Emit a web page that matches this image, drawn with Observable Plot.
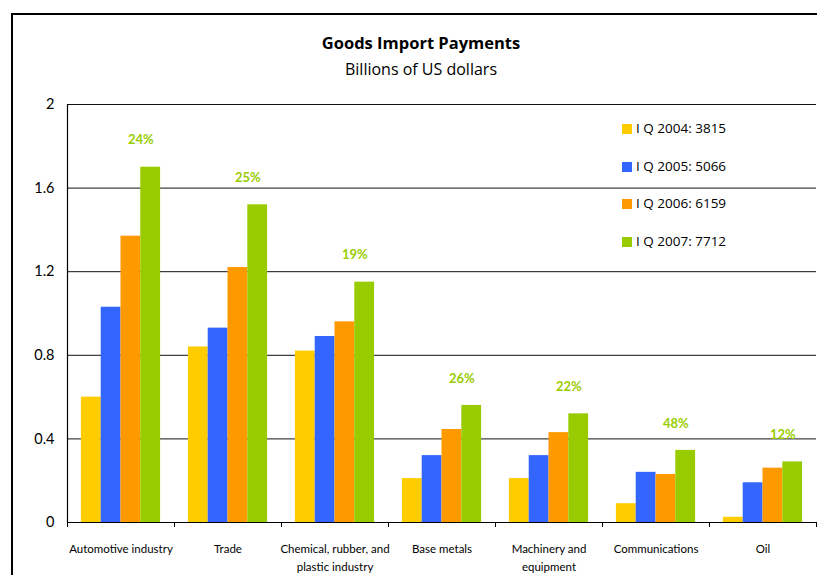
<!DOCTYPE html>
<html>
<head>
<meta charset="utf-8">
<script src="https://cdn.jsdelivr.net/npm/d3@7"></script>
<script src="https://cdn.jsdelivr.net/npm/@observablehq/plot@0.6"></script>
<style>
  html, body { margin: 0; padding: 0; background: #fff; }
  #wrap { position: relative; width: 817px; height: 575px; overflow: hidden; font-family: "Open Sans", Lato, sans-serif; }
  #border { position: absolute; left: 11px; top: 13px; width: 900px; height: 700px; border-left: 2px solid #000; border-top: 2px solid #000; box-sizing: border-box; }
  #head { position: absolute; left: 0; top: 0; width: 817px; height: 90px; }
  #title { position: absolute; left: 0; width: 842px; top: 31px; text-align: center; font-weight: bold; font-size: 16.5px; color: #000; }
  #subtitle { position: absolute; left: 0; width: 842px; top: 58px; text-align: center; font-size: 16px; color: #000; }
  #chart { position: absolute; left: 0; top: 90px; }
  #legend { position: absolute; left: 622px; top: 119px; font-size: 13.5px; color: #000; }
  .row { position: absolute; left: 0; white-space: nowrap; height: 18px; line-height: 18px; }
  .sw { display: inline-block; width: 10px; height: 10px; margin-right: 4px; vertical-align: -1px; }
</style>
</head>
<body>
<div id="wrap">
  <div id="border"></div>
  <div id="head">
    <div id="title">Goods Import Payments</div>
    <div id="subtitle">Billions of US dollars</div>
  </div>
  <div id="chart"></div>
  <div id="legend"></div>
</div>
<script>
// ---- data ----
const categories = ["Automotive industry", "Trade", "Chemical, rubber, and\nplastic industry", "Base metals", "Machinery and\nequipment", "Communications", "Oil"];
const seriesNames = ["I Q 2004: 3815", "I Q 2005: 5066", "I Q 2006: 6159", "I Q 2007: 7712"];
const q2004 = [0.60, 0.84, 0.82, 0.21, 0.21, 0.09, 0.025];
const q2005 = [1.03, 0.93, 0.89, 0.32, 0.32, 0.24, 0.19];
const q2006 = [1.37, 1.22, 0.96, 0.445, 0.43, 0.23, 0.26];
const q2007 = [1.70, 1.52, 1.15, 0.56, 0.52, 0.345, 0.29];
const growth = ["24%", "25%", "19%", "26%", "22%", "48%", "12%"];
const yTicks = [0, 0.4, 0.8, 1.2, 1.6, 2];
const colors = ["#FFCC00", "#3366FF", "#FF9900", "#99CC00"];

// ---- layout constants (category slot = 1 unit) ----
const groupPad = 0.13;   // gap before first bar within a slot
const barW = 0.185;      // width of one bar in slot units

const seriesValues = [q2004, q2005, q2006, q2007];
const rows = [];
categories.forEach((c, i) => {
  seriesValues.forEach((vals, j) => {
    rows.push({i, j, series: seriesNames[j], value: vals[i]});
  });
});
const labels = categories.map((c, i) => ({i, value: q2007[i], text: growth[i]}));

const chart = Plot.plot({
  width: 817,
  height: 485,
  marginTop: 14,
  marginBottom: 53,
  marginLeft: 67,
  marginRight: 1,
  style: {fontFamily: "Lato, 'Open Sans', sans-serif", background: "transparent"},
  x: {type: "linear", domain: [0, categories.length], axis: null},
  y: {domain: [0, 2], axis: null},
  color: {domain: seriesNames, range: colors},
  marks: [
    Plot.ruleY(yTicks.filter(d => d > 0), {stroke: "#111", strokeWidth: 1}),
    Plot.rectY(rows, {
      x1: d => d.i + groupPad + d.j * barW,
      x2: d => d.i + groupPad + (d.j + 1) * barW,
      y: "value",
      fill: "series",
      inset: 0
    }),
    Plot.ruleX([0], {y1: 0, y2: 2, stroke: "#000", strokeWidth: 1.2}),
    Plot.ruleY([0], {stroke: "#000", strokeWidth: 1.2}),
    Plot.axisY({ticks: yTicks, tickSize: 0, tickPadding: 13, fontSize: 14.5, label: null, tickFormat: d => String(d), fill: "#000"}),
    Plot.axisX({ticks: d3.range(0, categories.length + 1), tickSize: 5, label: null, tickFormat: () => "", stroke: "#000"}),
    Plot.axisX({ticks: d3.range(0, categories.length).map(i => i + 0.5), tickSize: 0, tickPadding: 18, fontSize: 11.5, lineHeight: 1.55, label: null,
      tickFormat: d => categories[Math.round(d - 0.5)], fill: "#000"}),
    Plot.text(labels, {
      x: d => d.i + groupPad + 3 * barW,
      y: "value",
      text: "text",
      dy: -27,
      fill: "#99CC00",
      fontWeight: "bold",
      fontSize: 13
    })
  ]
});
document.getElementById("chart").appendChild(chart);

// legend
const legend = document.getElementById("legend");
const rowTops = [0, 38, 75, 113];
seriesNames.forEach((name, j) => {
  const r = document.createElement("div");
  r.className = "row";
  r.style.top = rowTops[j] + "px";
  r.innerHTML = `<span class="sw" style="background:${colors[j]}"></span>${name}`;
  legend.appendChild(r);
});
</script>
</body>
</html>
